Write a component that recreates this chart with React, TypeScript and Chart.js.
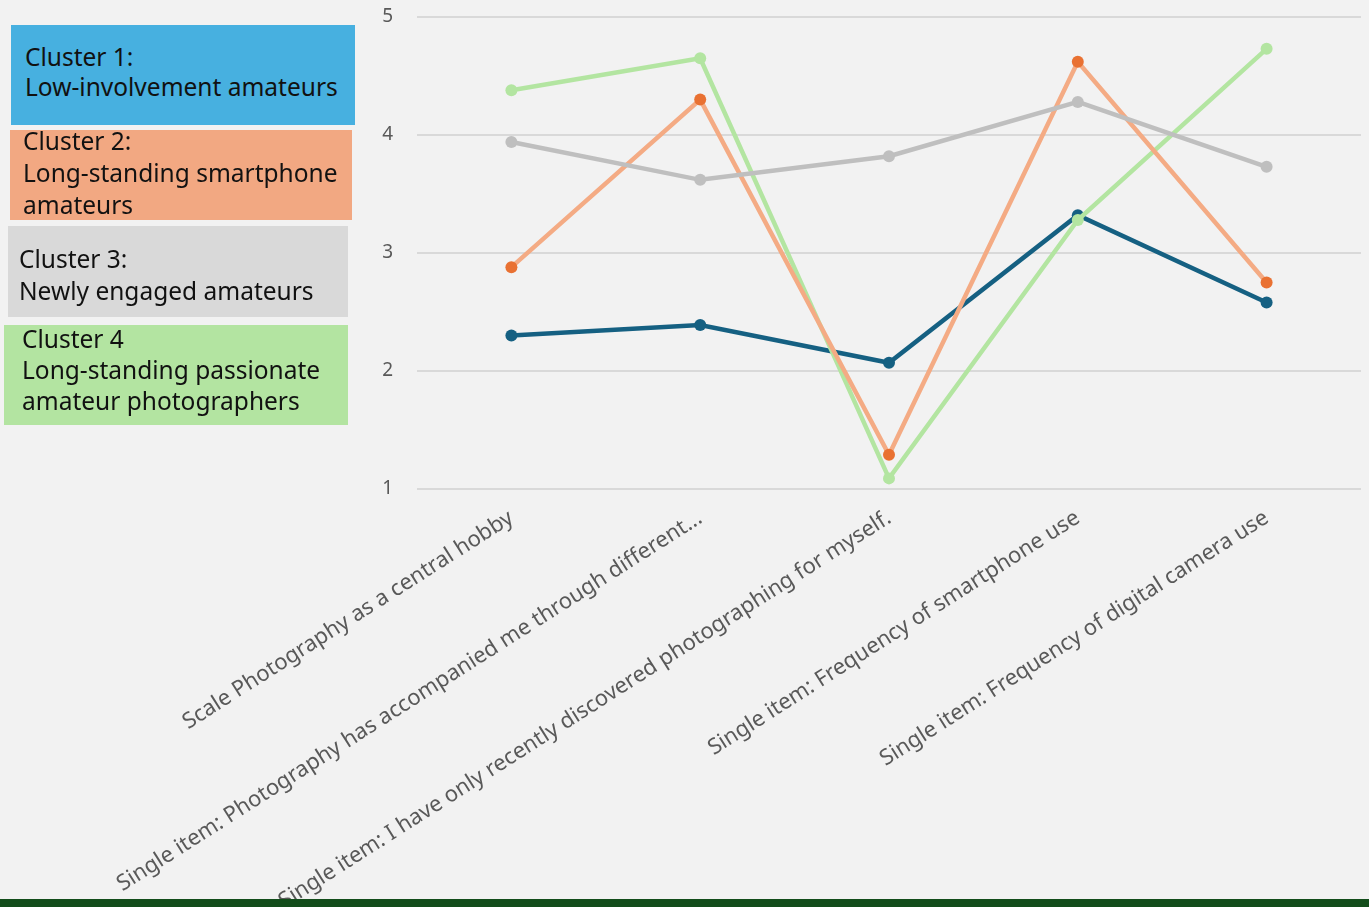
import React, { useEffect, useRef } from "react";
import { Chart, registerables } from "chart.js";

Chart.register(...registerables);

const categories = [
  "Scale Photography as a central hobby",
  "Single item: Photography has accompanied me through different...",
  "Single item: I have only recently discovered photographing for myself.",
  "Single item: Frequency of smartphone use",
  "Single item: Frequency of digital camera use",
];

const cluster1 = [2.3, 2.39, 2.07, 3.32, 2.58];
const cluster2 = [2.88, 4.3, 1.29, 4.62, 2.75];
const cluster3 = [3.94, 3.62, 3.82, 4.28, 3.73];
const cluster4 = [4.38, 4.65, 1.09, 3.28, 4.73];

const yTicks = [1, 2, 3, 4, 5];

const legendItems = [
  { lines: ["Cluster 1:", "Low-involvement amateurs"], bg: "#47b0e0", left: 11, top: 25, width: 344, height: 100, pad: 14, lh: 30, pt: 17 },
  { lines: ["Cluster 2:", "Long-standing smartphone", "amateurs"], bg: "#f2a882", left: 10, top: 130, width: 342, height: 90, pad: 13, lh: 32, pt: -5 },
  { lines: ["Cluster 3:", "Newly engaged amateurs"], bg: "#d9d9d9", left: 8, top: 226, width: 340, height: 91, pad: 11, lh: 32, pt: 17 },
  { lines: ["Cluster 4", "Long-standing passionate", "amateur photographers"], bg: "#b3e4a1", left: 4, top: 325, width: 344, height: 100, pad: 18, lh: 31, pt: -2 },
];

export default function App() {
  const ref = useRef<HTMLCanvasElement | null>(null);

  useEffect(() => {
    if (!ref.current) return;
    const mk = (label: string, data: number[], line: string, point: string) => ({
      label,
      data,
      borderColor: line,
      backgroundColor: point,
      pointBackgroundColor: point,
      pointBorderColor: point,
      borderWidth: 4.5,
      pointRadius: 6,
      pointBorderWidth: 0,
      tension: 0,
    });
    const chart = new Chart(ref.current, {
      type: "line",
      data: {
        labels: categories,
        datasets: [
          mk("Cluster 3", cluster3, "#bfbfbf", "#bfbfbf"),
          mk("Cluster 2", cluster2, "#f4ab84", "#e97132"),
          mk("Cluster 4", cluster4, "#b3e5a1", "#b3e5a1"),
          mk("Cluster 1", cluster1, "#156082", "#156082"),
        ],
      },
      options: {
        responsive: false,
        animation: false,
        layout: { padding: { left: 0, right: 8, top: 17, bottom: 0 } },
        plugins: { legend: { display: false }, tooltip: { enabled: false } },
        scales: {
          x: {
            offset: true,
            grid: { display: false },
            border: { display: false },
            ticks: {
              color: "#595959",
              font: { family: "Noto Sans", size: 22 },
              minRotation: 32.5,
              maxRotation: 32.5,
              autoSkip: false,
              padding: 8,
            },
            afterFit: (s: any) => {
              s.height = 418;
              s.paddingTop = 0;
              s.paddingBottom = 0;
            },
          },
          y: {
            min: 1,
            max: 5,
            afterBuildTicks: (s: any) => {
              s.ticks = yTicks.map((v) => ({ value: v }));
            },
            grid: { color: "#d9d9d9", lineWidth: 2, drawTicks: false },
            border: { display: false },
            ticks: {
              color: "#595959",
              font: { family: "Noto Sans", size: 19 },
              padding: 24,
            },
            afterFit: (s: any) => {
              s.width = 417;
              s.paddingTop = 0;
              s.paddingBottom = 0;
            },
          },
        },
      },
    });
    return () => chart.destroy();
  }, []);

  return (
    <div style={{ position: "fixed", left: 0, top: 0, width: 1369, height: 907, background: "#f2f2f2", overflow: "hidden" }}>
      <canvas ref={ref} width={1369} height={907} style={{ position: "absolute", left: 0, top: 0 }} />
      {legendItems.map((it, i) => (
        <div
          key={i}
          style={{
            position: "absolute",
            left: it.left,
            top: it.top,
            width: it.width,
            height: it.height,
            background: it.bg,
            boxSizing: "border-box",
            paddingLeft: it.pad,
            paddingTop: Math.max(it.pt, 0),
            fontFamily: "Noto Sans",
            fontSize: 24.5,
            lineHeight: it.lh + "px",
            color: "#111",
            overflow: "visible",
          }}
        >
          <div style={{ marginTop: Math.min(it.pt, 0) }}>
            {it.lines.map((l, j) => (
              <div key={j} style={{ whiteSpace: "nowrap" }}>{l}</div>
            ))}
          </div>
        </div>
      ))}
      <div style={{ position: "absolute", left: 0, top: 899, width: 1369, height: 8, background: "#134d1b" }} />
    </div>
  );
}
